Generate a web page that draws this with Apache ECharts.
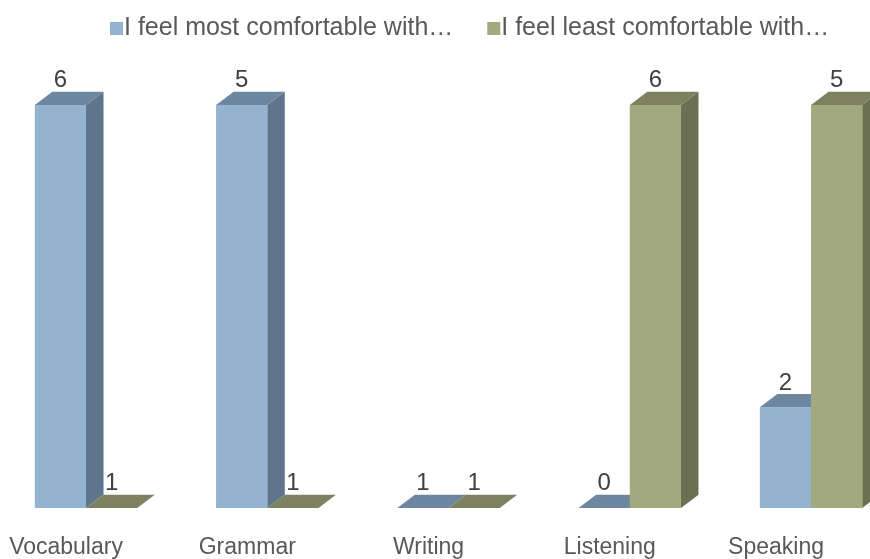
<!DOCTYPE html>
<html>
<head>
<meta charset="utf-8">
<script src="https://cdn.jsdelivr.net/npm/echarts@6/dist/echarts.min.js"></script>
<style>
  html, body { margin: 0; padding: 0; background: #ffffff; }
  #chart { width: 870px; height: 559px; }
</style>
</head>
<body>
<div id="chart"></div>
<script>
// Survey answers per skill
const categories = ['Vocabulary', 'Grammar', 'Writing', 'Listening', 'Speaking'];
const seriesNames = ['I feel most comfortable with…', 'I feel least comfortable with…'];
const mostComfortable = [6, 5, 1, 0, 2];
const leastComfortable = [1, 1, 1, 6, 5];

// Visible value range of the vertical axis (bars are cut off at its ends)
const axisMin = 1;
const axisMax = 5;

// Face colours for the two series: front, top, side
const palette = [
  { front: '#93b3d0', top: '#6e87a0', side: '#5f758b' },
  { front: '#a3a97e', top: '#7d8160', side: '#6b7052' }
];

const BAR_RATIO = 0.2825;  // width of one bar relative to the category band
const DEPTH_X = 17.5;      // oblique depth of the boxes
const DEPTH_Y = 13.3;
const FONT = '"Liberation Sans", Arial, sans-serif';

function renderBox(params, api) {
  const cat = api.value(0);
  const raw = api.value(1);
  const band = api.size([1, 0])[0];
  const w = band * BAR_RATIO;
  const base = api.coord([cat, axisMin]);
  const shown = Math.min(Math.max(raw, axisMin), axisMax);
  const topY = api.coord([cat, shown])[1];
  const baseY = base[1];
  const x0 = base[0] + (params.seriesIndex === 0 ? -w : 0);
  const c = palette[params.seriesIndex];
  const children = [];
  const h = baseY - topY;
  if (h > 0.5) {
    children.push({
      type: 'polygon',
      shape: { points: [[x0 + w, topY], [x0 + w + DEPTH_X, topY - DEPTH_Y], [x0 + w + DEPTH_X, baseY - DEPTH_Y], [x0 + w, baseY]] },
      style: { fill: c.side }
    });
    children.push({
      type: 'rect',
      shape: { x: x0, y: topY, width: w, height: h },
      style: { fill: c.front }
    });
  }
  children.push({
    type: 'polygon',
    shape: { points: [[x0, topY], [x0 + w, topY], [x0 + w + DEPTH_X, topY - DEPTH_Y], [x0 + DEPTH_X, topY - DEPTH_Y]] },
    style: { fill: c.top }
  });
  children.push({
    type: 'text',
    style: {
      text: String(raw),
      x: x0 + w / 2,
      y: topY - DEPTH_Y + 1,
      align: 'center',
      verticalAlign: 'bottom',
      fill: '#404040',
      font: '24px ' + FONT
    }
  });
  return { type: 'group', children: children };
}

function toData(values) {
  return values.map(function (v, i) { return [i, v]; });
}

const chart = echarts.init(document.getElementById('chart'), null, { renderer: 'canvas' });
chart.setOption({
  animation: false,
  backgroundColor: '#ffffff',
  textStyle: { fontFamily: FONT },
  legend: {
    data: seriesNames,
    left: 105,
    top: 11,
    icon: 'rect',
    itemWidth: 13,
    itemHeight: 13,
    itemGap: 34,
    textStyle: { fontSize: 25, color: '#595959', fontFamily: FONT, padding: [0, 0, 0, -4] }
  },
  grid: { left: -4.6, top: 105, width: 906.25, height: 403, outerBoundsMode: 'none', containLabel: false },
  xAxis: {
    type: 'category',
    data: categories,
    axisLine: { show: false },
    axisTick: { show: false },
    axisLabel: {
      interval: 0,
      hideOverlap: false,
      fontSize: 23,
      color: '#595959',
      fontFamily: FONT,
      margin: 28,
      formatter: function (value, index) {
        return index === categories.length - 1 ? '{last|' + value + '}' : '{std|' + value + '}';
      },
      rich: {
        std: { fontSize: 23, color: '#595959', fontFamily: FONT, padding: [0, 40, 0, 0] },
        last: { fontSize: 23, color: '#595959', fontFamily: FONT, padding: [0, 70, 0, 0] }
      }
    }
  },
  yAxis: {
    type: 'value',
    min: axisMin,
    max: axisMax,
    show: false,
    splitLine: { show: false }
  },
  series: [
    {
      name: seriesNames[0],
      type: 'custom',
      renderItem: renderBox,
      itemStyle: { color: palette[0].front },
      encode: { x: 0, y: 1 },
      data: toData(mostComfortable)
    },
    {
      name: seriesNames[1],
      type: 'custom',
      renderItem: renderBox,
      itemStyle: { color: palette[1].front },
      encode: { x: 0, y: 1 },
      data: toData(leastComfortable)
    }
  ]
});
</script>
</body>
</html>
